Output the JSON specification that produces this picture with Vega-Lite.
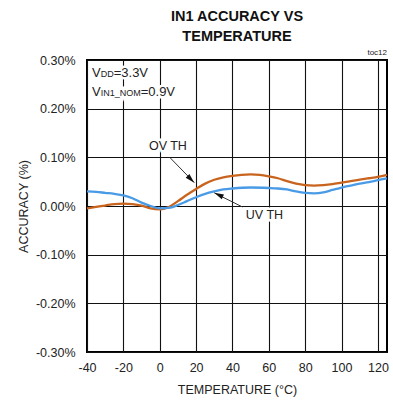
{
  "$schema": "https://vega.github.io/schema/vega-lite/v6.json",
  "width": 300,
  "height": 292,
  "autosize": {"type": "none"},
  "padding": {"left": 87, "top": 60, "right": 6, "bottom": 54},
  "title": {
    "text": ["IN1 ACCURACY VS", "TEMPERATURE"],
    "font": "Liberation Sans",
    "fontSize": 14.5,
    "fontWeight": "bold",
    "lineHeight": 20,
    "anchor": "middle",
    "frame": "group",
    "offset": 5,
    "color": "#111"
  },
  "config": {
    "view": {"stroke": "#000", "strokeWidth": 2},
    "axis": {
      "domain": false,
      "ticks": false,
      "tickSize": 0,
      "labelFont": "Liberation Sans",
      "labelFontSize": 12.5,
      "labelColor": "#222",
      "titleFont": "Liberation Sans",
      "titleFontSize": 12.5,
      "titleFontWeight": "normal",
      "titleColor": "#222"
    },
    "text": {"font": "Liberation Sans", "color": "#222"}
  },
  "datasets": {
    "labels": [
      {"temp": 4.5, "acc": 0.1235, "label": "OV TH"},
      {"temp": 57.6, "acc": -0.0195, "label": "UV TH"}
    ],
    "bigV": [{"temp": -40, "acc": 0.265, "t": "V"}, {"temp": -40, "acc": 0.226, "t": "V"}],
    "subs": [{"temp": -40, "acc": 0.265, "t": "DD"}, {"temp": -40, "acc": 0.226, "t": "IN1_NOM"}],
    "vdd": [{"temp": -40, "acc": 0.265, "t": "=3.3V"}],
    "vin": [{"temp": -40, "acc": 0.226, "t": "=0.9V"}]
  },
  "encoding": {
    "x": {
      "field": "temp",
      "type": "quantitative",
      "scale": {"domain": [-40, 125], "nice": false, "zero": false},
      "axis": {
        "title": "TEMPERATURE (°C)",
        "values": [-40, -20, 0, 20, 40, 60, 80, 100, 120],
        "labelExpr": "(datum.value < 0 ? '-' : '') + abs(datum.value)",
        "labelOverlap": false,
        "labelFlush": false,
        "labelPadding": 9,
        "titlePadding": 10,
        "grid": true,
        "gridColor": "#111",
        "gridWidth": 1.1,
        "gridOpacity": 1
      }
    },
    "y": {
      "field": "acc",
      "type": "quantitative",
      "scale": {"domain": [-0.3, 0.3], "nice": false, "zero": false},
      "axis": {
        "title": "ACCURACY (%)",
        "values": [-0.3, -0.2, -0.1, 0, 0.1, 0.2, 0.3],
        "labelExpr": "(datum.value < 0 ? '-' : '') + format(abs(datum.value), '.2f') + '%'",
        "labelOverlap": false,
        "labelFlush": false,
        "labelPadding": 12,
        "titlePadding": 5,
        "grid": true,
        "gridColor": "#111",
        "gridWidth": 1.1,
        "gridOpacity": 1
      }
    }
  },
  "layer": [
    {
      "data": {
        "values": [
          {"temp": -40, "acc": -0.005, "series": "OV TH"},
          {"temp": -35, "acc": -0.002, "series": "OV TH"},
          {"temp": -30, "acc": 0.001, "series": "OV TH"},
          {"temp": -25, "acc": 0.004, "series": "OV TH"},
          {"temp": -20, "acc": 0.005, "series": "OV TH"},
          {"temp": -15, "acc": 0.004, "series": "OV TH"},
          {"temp": -10, "acc": 0.001, "series": "OV TH"},
          {"temp": -5, "acc": -0.005, "series": "OV TH"},
          {"temp": 0, "acc": -0.007, "series": "OV TH"},
          {"temp": 5, "acc": -0.002, "series": "OV TH"},
          {"temp": 10, "acc": 0.01, "series": "OV TH"},
          {"temp": 15, "acc": 0.023, "series": "OV TH"},
          {"temp": 20, "acc": 0.035, "series": "OV TH"},
          {"temp": 25, "acc": 0.046, "series": "OV TH"},
          {"temp": 30, "acc": 0.054, "series": "OV TH"},
          {"temp": 35, "acc": 0.059, "series": "OV TH"},
          {"temp": 40, "acc": 0.062, "series": "OV TH"},
          {"temp": 45, "acc": 0.064, "series": "OV TH"},
          {"temp": 50, "acc": 0.065, "series": "OV TH"},
          {"temp": 55, "acc": 0.064, "series": "OV TH"},
          {"temp": 60, "acc": 0.061, "series": "OV TH"},
          {"temp": 65, "acc": 0.057, "series": "OV TH"},
          {"temp": 70, "acc": 0.051, "series": "OV TH"},
          {"temp": 75, "acc": 0.046, "series": "OV TH"},
          {"temp": 80, "acc": 0.043, "series": "OV TH"},
          {"temp": 85, "acc": 0.042, "series": "OV TH"},
          {"temp": 90, "acc": 0.043, "series": "OV TH"},
          {"temp": 95, "acc": 0.045, "series": "OV TH"},
          {"temp": 100, "acc": 0.048, "series": "OV TH"},
          {"temp": 105, "acc": 0.051, "series": "OV TH"},
          {"temp": 110, "acc": 0.054, "series": "OV TH"},
          {"temp": 115, "acc": 0.057, "series": "OV TH"},
          {"temp": 120, "acc": 0.06, "series": "OV TH"},
          {"temp": 125, "acc": 0.064, "series": "OV TH"},
          {"temp": -40, "acc": 0.03, "series": "UV TH"},
          {"temp": -35, "acc": 0.029, "series": "UV TH"},
          {"temp": -30, "acc": 0.027, "series": "UV TH"},
          {"temp": -25, "acc": 0.025, "series": "UV TH"},
          {"temp": -20, "acc": 0.022, "series": "UV TH"},
          {"temp": -15, "acc": 0.016, "series": "UV TH"},
          {"temp": -10, "acc": 0.007, "series": "UV TH"},
          {"temp": -5, "acc": 0.0, "series": "UV TH"},
          {"temp": 0, "acc": -0.005, "series": "UV TH"},
          {"temp": 5, "acc": -0.004, "series": "UV TH"},
          {"temp": 10, "acc": 0.002, "series": "UV TH"},
          {"temp": 15, "acc": 0.01, "series": "UV TH"},
          {"temp": 20, "acc": 0.018, "series": "UV TH"},
          {"temp": 25, "acc": 0.025, "series": "UV TH"},
          {"temp": 30, "acc": 0.03, "series": "UV TH"},
          {"temp": 35, "acc": 0.034, "series": "UV TH"},
          {"temp": 40, "acc": 0.036, "series": "UV TH"},
          {"temp": 50, "acc": 0.038, "series": "UV TH"},
          {"temp": 60, "acc": 0.037, "series": "UV TH"},
          {"temp": 65, "acc": 0.036, "series": "UV TH"},
          {"temp": 70, "acc": 0.034, "series": "UV TH"},
          {"temp": 75, "acc": 0.03, "series": "UV TH"},
          {"temp": 80, "acc": 0.027, "series": "UV TH"},
          {"temp": 85, "acc": 0.026, "series": "UV TH"},
          {"temp": 90, "acc": 0.028, "series": "UV TH"},
          {"temp": 95, "acc": 0.033, "series": "UV TH"},
          {"temp": 100, "acc": 0.038, "series": "UV TH"},
          {"temp": 105, "acc": 0.042, "series": "UV TH"},
          {"temp": 110, "acc": 0.046, "series": "UV TH"},
          {"temp": 115, "acc": 0.049, "series": "UV TH"},
          {"temp": 120, "acc": 0.053, "series": "UV TH"},
          {"temp": 125, "acc": 0.057, "series": "UV TH"}
        ]
      },
      "mark": {"type": "line", "interpolate": "monotone", "strokeWidth": 2.3},
      "encoding": {
        "color": {
          "field": "series",
          "type": "nominal",
          "scale": {"domain": ["OV TH", "UV TH"], "range": ["#c9641f", "#4a9be6"]},
          "legend": null
        }
      }
    },
    {
      "data": {"name": "labels"},
      "mark": {"type": "text", "fontSize": 12.5, "align": "center", "baseline": "middle", "stroke": "white", "strokeWidth": 5, "fill": "white"},
      "encoding": {"text": {"field": "label"}}
    },
    {
      "data": {"name": "bigV"},
      "mark": {"type": "text", "fontSize": 13, "align": "left", "baseline": "alphabetic", "dx": 5, "stroke": "white", "strokeWidth": 5, "fill": "white"},
      "encoding": {"text": {"field": "t"}}
    },
    {
      "data": {"name": "subs"},
      "mark": {"type": "text", "fontSize": 9, "align": "left", "baseline": "alphabetic", "dx": 13.7, "stroke": "white", "strokeWidth": 7, "fill": "white"},
      "encoding": {"text": {"field": "t"}}
    },
    {
      "data": {"name": "vdd"},
      "mark": {"type": "text", "fontSize": 13, "align": "left", "baseline": "alphabetic", "dx": 26.7, "stroke": "white", "strokeWidth": 5, "fill": "white"},
      "encoding": {"text": {"field": "t"}}
    },
    {
      "data": {"name": "vin"},
      "mark": {"type": "text", "fontSize": 13, "align": "left", "baseline": "alphabetic", "dx": 53.7, "stroke": "white", "strokeWidth": 5, "fill": "white"},
      "encoding": {"text": {"field": "t"}}
    },
    {
      "data": {
        "values": [
          {"temp": 5.5, "acc": 0.1, "temp2": 19, "acc2": 0.048},
          {"temp": 45.5, "acc": -0.002, "temp2": 30, "acc2": 0.027}
        ]
      },
      "mark": {"type": "rule", "color": "#333", "strokeWidth": 1},
      "encoding": {
        "x2": {"field": "temp2"},
        "y2": {"field": "acc2"}
      }
    },
    {
      "data": {"values": [{"temp": 19, "acc": 0.048}]},
      "mark": {"type": "point", "shape": "M0,0L0.55,2L-0.55,2Z", "filled": true, "color": "#111", "opacity": 1, "size": 90, "angle": 135}
    },
    {
      "data": {"values": [{"temp": 30, "acc": 0.027}]},
      "mark": {"type": "point", "shape": "M0,0L0.55,2L-0.55,2Z", "filled": true, "color": "#111", "opacity": 1, "size": 90, "angle": 295}
    },
    {
      "data": {"name": "labels"},
      "mark": {"type": "text", "fontSize": 12.5, "align": "center", "baseline": "middle"},
      "encoding": {"text": {"field": "label"}}
    },
    {
      "data": {"values": [{"temp": 125, "acc": 0.3, "label": "toc12"}]},
      "mark": {"type": "text", "fontSize": 8, "align": "right", "baseline": "bottom", "dy": -3},
      "encoding": {"text": {"field": "label"}}
    },
    {
      "data": {"name": "bigV"},
      "mark": {"type": "text", "fontSize": 13, "align": "left", "baseline": "alphabetic", "dx": 5},
      "encoding": {"text": {"field": "t"}}
    },
    {
      "data": {"name": "subs"},
      "mark": {"type": "text", "fontSize": 9, "align": "left", "baseline": "alphabetic", "dx": 13.7},
      "encoding": {"text": {"field": "t"}}
    },
    {
      "data": {"name": "vdd"},
      "mark": {"type": "text", "fontSize": 13, "align": "left", "baseline": "alphabetic", "dx": 26.7},
      "encoding": {"text": {"field": "t"}}
    },
    {
      "data": {"name": "vin"},
      "mark": {"type": "text", "fontSize": 13, "align": "left", "baseline": "alphabetic", "dx": 53.7},
      "encoding": {"text": {"field": "t"}}
    }
  ]
}
